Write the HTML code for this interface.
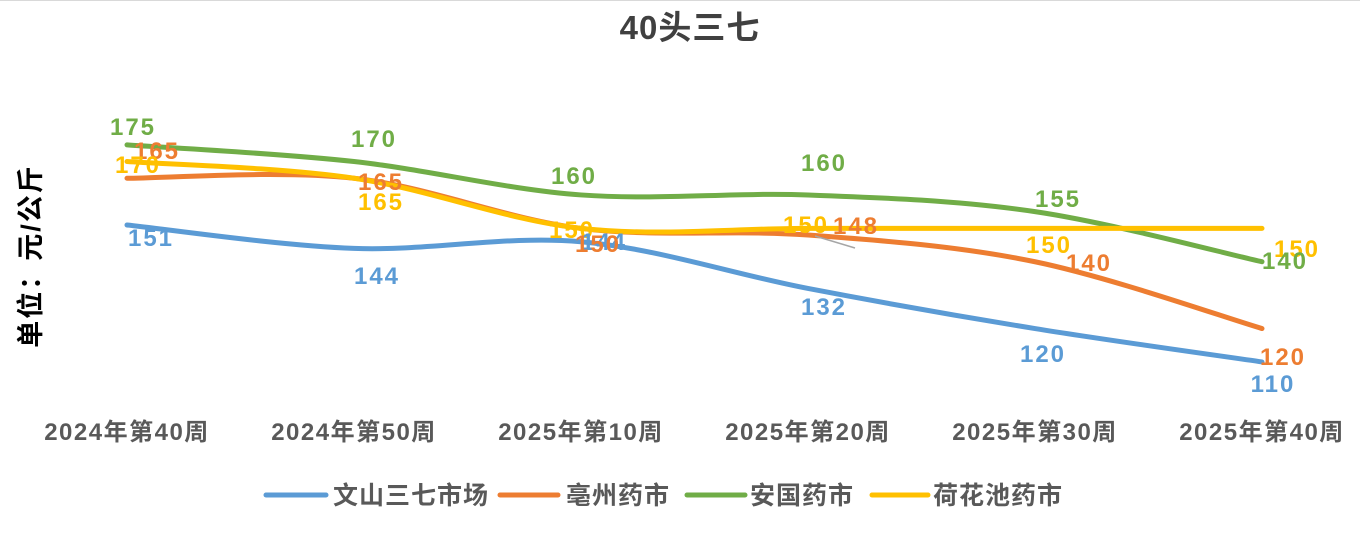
<!DOCTYPE html>
<html><head><meta charset="utf-8"><style>
body{margin:0;background:#fff;}
svg text{font-family:"Liberation Sans","Noto Sans CJK SC",sans-serif;font-weight:bold;}
</style></head><body>
<svg width="1360" height="530" xmlns="http://www.w3.org/2000/svg">
<rect x="0" y="0" width="1360" height="530" fill="#fff"/>
<line x1="0" y1="0.5" x2="1360" y2="0.5" stroke="#d9d9d9"/>
<text x="690" y="39" font-size="33" fill="#404040" text-anchor="middle" letter-spacing="1">40头三七</text>
<text transform="translate(40,256) rotate(-90)" font-size="27" fill="#000" text-anchor="middle" letter-spacing="2">单位：元/公斤</text>
<g fill="none" stroke-width="5" stroke-linecap="round">
<path id="b" stroke="#5B9BD5"/>
<path id="o" stroke="#ED7D31"/>
<path id="g" stroke="#70AD47"/>
<path id="y" stroke="#FFC000"/>
</g>
<line x1="815" y1="236" x2="855" y2="248" stroke="#a6a6a6" stroke-width="1.5"/>
<g font-size="24" letter-spacing="2">
<text x="133" y="135" fill="#70AD47" text-anchor="middle">175</text>
<text x="157" y="159" fill="#ED7D31" text-anchor="middle">165</text>
<text x="138" y="173" fill="#FFC000" text-anchor="middle">170</text>
<text x="151" y="246" fill="#5B9BD5" text-anchor="middle">151</text>
<text x="374" y="147" fill="#70AD47" text-anchor="middle">170</text>
<text x="381" y="190" fill="#ED7D31" text-anchor="middle">165</text>
<text x="381" y="210" fill="#FFC000" text-anchor="middle">165</text>
<text x="377" y="284" fill="#5B9BD5" text-anchor="middle">144</text>
<text x="574" y="184" fill="#70AD47" text-anchor="middle">160</text>
<text x="572" y="238" fill="#FFC000" text-anchor="middle">150</text>
<text x="604" y="250" fill="#5B9BD5" text-anchor="middle">144</text>
<text x="598" y="252" fill="#ED7D31" text-anchor="middle">150</text>
<text x="824" y="171" fill="#70AD47" text-anchor="middle">160</text>
<text x="806" y="233" fill="#FFC000" text-anchor="middle">150</text>
<text x="856" y="234" fill="#ED7D31" text-anchor="middle">148</text>
<text x="824" y="315" fill="#5B9BD5" text-anchor="middle">132</text>
<text x="1058" y="207" fill="#70AD47" text-anchor="middle">155</text>
<text x="1049" y="253" fill="#FFC000" text-anchor="middle">150</text>
<text x="1089" y="271" fill="#ED7D31" text-anchor="middle">140</text>
<text x="1043" y="362" fill="#5B9BD5" text-anchor="middle">120</text>
<text x="1297" y="257" fill="#FFC000" text-anchor="middle">150</text>
<text x="1285" y="269" fill="#70AD47" text-anchor="middle">140</text>
<text x="1283" y="365" fill="#ED7D31" text-anchor="middle">120</text>
<text x="1273" y="392" fill="#5B9BD5" text-anchor="middle">110</text>
</g>
<g font-size="24" fill="#595959" text-anchor="middle" letter-spacing="1.5">
<text x="127" y="440">2024年第40周</text>
<text x="354" y="440">2024年第50周</text>
<text x="581" y="440">2025年第10周</text>
<text x="808" y="440">2025年第20周</text>
<text x="1035" y="440">2025年第30周</text>
<text x="1262" y="440">2025年第40周</text>
</g>
<g font-size="25" fill="#595959" letter-spacing="1">
<line x1="266" y1="495" x2="326" y2="495" stroke="#5B9BD5" stroke-width="5" stroke-linecap="round"/>
<text x="333" y="504">文山三七市场</text>
<line x1="500" y1="495" x2="558" y2="495" stroke="#ED7D31" stroke-width="5" stroke-linecap="round"/>
<text x="566" y="504">亳州药市</text>
<line x1="687" y1="495" x2="745" y2="495" stroke="#70AD47" stroke-width="5" stroke-linecap="round"/>
<text x="750" y="504">安国药市</text>
<line x1="872" y1="495" x2="928" y2="495" stroke="#FFC000" stroke-width="5" stroke-linecap="round"/>
<text x="933" y="504">荷花池药市</text>
</g>
</svg>
<script>
var xs=[127,354,581,808,1035,1262];
function Y(v){return 225+(151-v)*3.34;}
function path(vals){var p=vals.map(function(v,i){return [xs[i],Y(v)];});
var d="M"+p[0][0]+","+p[0][1];
for(var i=0;i<p.length-1;i++){var p0=p[i-1]||p[i],p1=p[i],p2=p[i+1],p3=p[i+2]||p2;var t=6;
d+=" C"+(p1[0]+(p2[0]-p0[0])/t)+","+(p1[1]+(p2[1]-p0[1])/t)+" "+(p2[0]-(p3[0]-p1[0])/t)+","+(p2[1]-(p3[1]-p1[1])/t)+" "+p2[0]+","+p2[1];}
return d;}
document.getElementById("b").setAttribute("d",path([151,144,146,132,120,110]));
document.getElementById("o").setAttribute("d",path([165,165,150,148,140,120]));
document.getElementById("g").setAttribute("d",path([175,170,160,160,155,140]));
document.getElementById("y").setAttribute("d",path([170,165,150,150,150,150]));
</script>
</body></html>
